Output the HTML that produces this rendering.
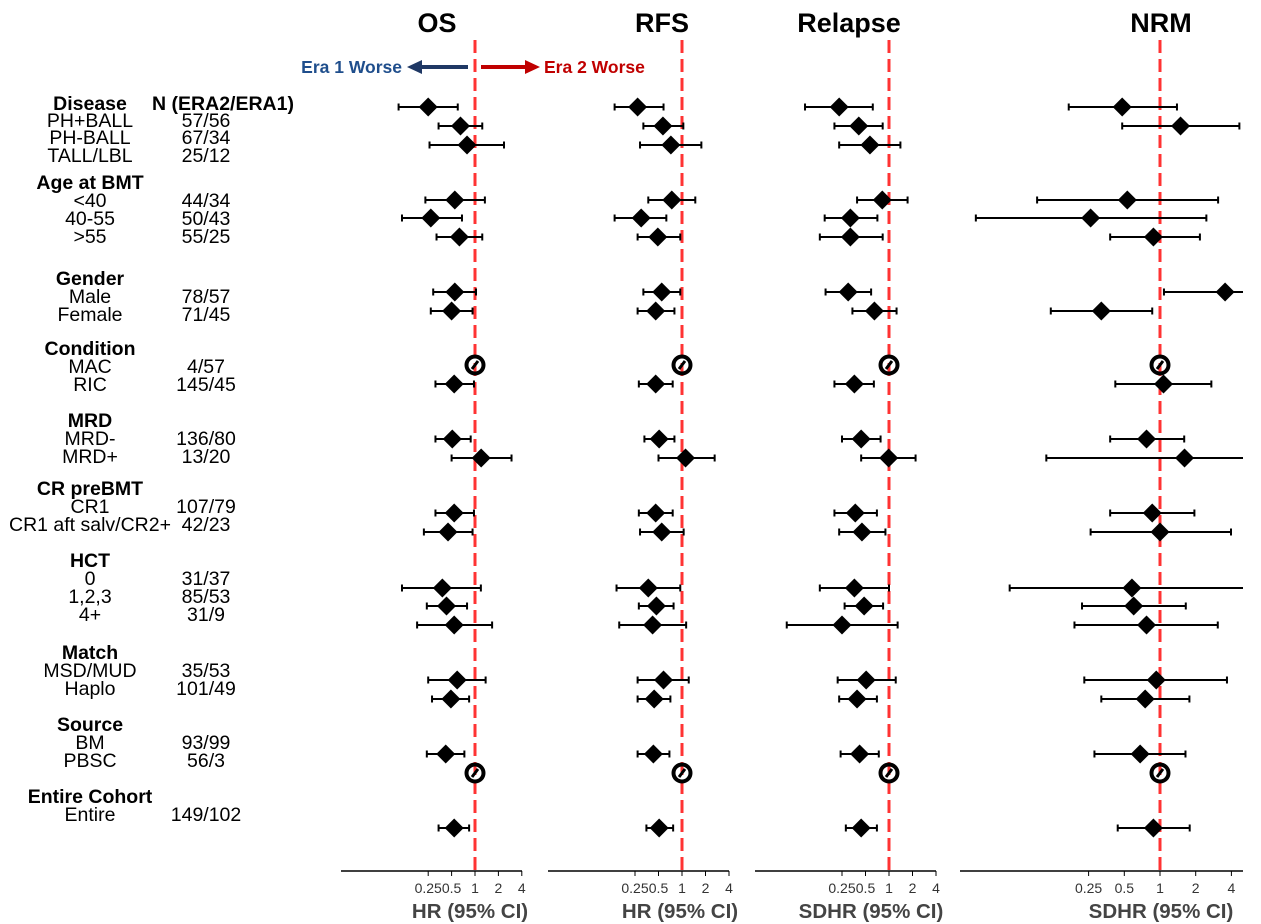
<!DOCTYPE html>
<html><head><meta charset="utf-8"><style>
html,body{margin:0;padding:0;background:#fff;}
svg{display:block;font-family:"Liberation Sans",Arial,sans-serif;}
</style></head><body>
<svg id="chart" width="1261" height="924" viewBox="0 0 1261 924" xmlns="http://www.w3.org/2000/svg">
<g id="labels"></g>
<g id="panels"></g>
<g>
  <line x1="468" y1="67" x2="420" y2="67" stroke="#1f3864" stroke-width="4"/>
  <polygon points="407,67 422,60 422,74" fill="#1f3864"/>
  <text x="402" y="73" text-anchor="end" font-size="17.5" font-weight="bold" fill="#1f4e8c">Era 1 Worse</text>
  <line x1="481" y1="67" x2="528" y2="67" stroke="#c00000" stroke-width="4"/>
  <polygon points="540,67 525,60 525,74" fill="#c00000"/>
  <text x="544" y="73" font-size="17.5" font-weight="bold" fill="#c00000">Era 2 Worse</text>
</g>
</svg>
<script>
const NS="http://www.w3.org/2000/svg";
// ---- data ----
const categories=["PH+BALL","PH-BALL","TALL/LBL","<40","40-55",">55","Male","Female","MAC","RIC","MRD-","MRD+","CR1","CR1 aft salv/CR2+","0","1,2,3","4+","MSD/MUD","Haplo","BM","PBSC","Entire"];
const referenceRows=[8,20];
const osEst=[0.25,0.65,0.79,0.55,0.27,0.63,0.55,0.50,1,0.54,0.51,1.2,0.54,0.45,0.38,0.43,0.54,0.59,0.49,0.42,1,0.54];
const osLo=[0.104,0.34,0.26,0.23,0.115,0.32,0.29,0.27,null,0.31,0.31,0.5,0.31,0.22,0.115,0.24,0.18,0.25,0.28,0.24,null,0.34];
const osHi=[0.60,1.24,2.36,1.34,0.68,1.24,1.03,0.93,null,0.97,0.88,2.95,0.97,0.93,1.19,0.79,1.66,1.37,0.84,0.73,null,0.84];
const rfsEst=[0.27,0.57,0.72,0.74,0.30,0.49,0.55,0.46,1,0.46,0.51,1.11,0.46,0.55,0.37,0.47,0.42,0.58,0.44,0.43,1,0.51];
const rfsLo=[0.137,0.32,0.29,0.37,0.137,0.27,0.32,0.27,null,0.28,0.33,0.5,0.28,0.29,0.145,0.28,0.157,0.27,0.27,0.27,null,0.35];
const rfsHi=[0.58,1.04,1.77,1.48,0.63,0.95,0.95,0.80,null,0.76,0.80,2.62,0.76,1.05,0.95,0.78,1.13,1.22,0.71,0.69,null,0.77];
const relEst=[0.23,0.41,0.57,0.82,0.32,0.32,0.30,0.65,1,0.36,0.44,0.99,0.37,0.45,0.36,0.48,0.25,0.51,0.39,0.42,1,0.44];
const relLo=[0.084,0.20,0.23,0.39,0.15,0.13,0.154,0.34,null,0.20,0.25,0.44,0.20,0.23,0.13,0.27,0.049,0.22,0.23,0.24,null,0.28];
const relHi=[0.62,0.83,1.40,1.73,0.71,0.83,0.59,1.25,null,0.64,0.78,2.19,0.70,0.90,1.0,0.84,1.29,1.22,0.70,0.74,null,0.70];
const nrmEst=[0.48,1.49,null,0.53,0.26,0.88,3.54,0.32,1,1.07,0.77,1.61,0.86,1.0,0.58,0.60,0.77,0.93,0.75,0.68,1,0.88];
const nrmLo=[0.17,0.48,null,0.092,0.028,0.38,1.08,0.12,null,0.42,0.38,0.11,0.38,0.26,0.054,0.22,0.19,0.23,0.32,0.28,null,0.44];
const nrmHi=[1.39,4.67,null,3.09,2.46,2.17,6,0.86,null,2.71,1.6,6,1.95,3.97,6,1.65,3.07,3.67,1.77,1.64,null,1.78];
const tickVals=[0.25,0.5,1,2,4];
const tickLabels=["0.25","0.5","1","2","4"];
const panelTitles=["OS","RFS","Relapse","NRM"];
const axisTitles=["HR (95% CI)","HR (95% CI)","SDHR (95% CI)","SDHR (95% CI)"];
// ---- layout ----
const rowY=[107,126,145,200,218,237,292,311,365,384,439,458,513,532,588,606,625,680,699,754,773,828];
const panels=[
 {x1:475,unit:23.4,left:341,right:522,title:437,axT:470,est:osEst,lo:osLo,hi:osHi},
 {x1:682,unit:23.5,left:548,right:729,title:662,axT:680,est:rfsEst,lo:rfsLo,hi:rfsHi},
 {x1:889,unit:23.5,left:755,right:936,title:849,axT:871,est:relEst,lo:relLo,hi:relHi},
 {x1:1160,unit:35.7,left:960,right:1243,title:1161,axT:1161,est:nrmEst,lo:nrmLo,hi:nrmHi}
];
function mk(tag,attrs,parent){const e=document.createElementNS(NS,tag);for(const k in attrs)e.setAttribute(k,attrs[k]);parent.appendChild(e);return e;}
const pg=document.getElementById('panels');
panels.forEach((p,pi)=>{
 const sx=v=>p.x1+p.unit*Math.log2(v);
 const g=mk('g',{},pg);
 
 
 const t=mk('text',{x:p.title,y:32,'text-anchor':'middle','font-size':27,'font-weight':'bold',fill:'#000'},g);
 t.textContent=panelTitles[pi];
 
 
 const rl=mk('line',{x1:sx(1),x2:sx(1),y1:40,y2:871,stroke:'#ff3333','stroke-width':3,'stroke-dasharray':'13,6'},g);
 
 
 const ax=mk('line',{x1:p.left,x2:p.right,y1:871,y2:871,stroke:'#000','stroke-width':1.6},g);
 
 
 tickVals.forEach((v,i)=>{
  const tk=mk('line',{x1:sx(v),x2:sx(v),y1:871,y2:876,stroke:'#000','stroke-width':1},g);
  
  
  const tl=mk('text',{x:sx(v),y:893,'text-anchor':'middle','font-size':14,fill:'#333'},g);
  tl.textContent=tickLabels[i];
  
  
 });
 const at=mk('text',{x:p.axT,y:918,'text-anchor':'middle','font-size':20.5,'font-weight':'bold',fill:'#444'},g);
 at.textContent=axisTitles[pi];
 
 
 const cx=v=>Math.max(p.left,Math.min(p.right,sx(v)));
 categories.forEach((c,i)=>{
  const y=rowY[i];
  if(referenceRows.includes(i)){
   const rg=mk('g',{},g);
   
   
   mk('circle',{cx:sx(p.est[i]),cy:y,r:8.5,fill:'none',stroke:'#000','stroke-width':4},rg);
   mk('line',{x1:sx(p.est[i])-3,y1:y+4,x2:sx(p.est[i])+3,y2:y-4,stroke:'#000','stroke-width':3},rg);
   return;
  }
  if(p.est[i]==null)return;
  const mg=mk('g',{},g);
  
  
  const xl=cx(p.lo[i]),xh=cx(p.hi[i]);
  mk('line',{x1:xl,x2:xh,y1:y,y2:y,stroke:'#000','stroke-width':2},mg);
  if(sx(p.lo[i])>=p.left)mk('line',{x1:xl,x2:xl,y1:y-3.5,y2:y+3.5,stroke:'#000','stroke-width':2},mg);
  if(sx(p.hi[i])<=p.right)mk('line',{x1:xh,x2:xh,y1:y-3.5,y2:y+3.5,stroke:'#000','stroke-width':2},mg);
  const e=sx(p.est[i]),d=9.5;
  mk('polygon',{points:`${e-d},${y} ${e},${y-d} ${e+d},${y} ${e},${y+d}`,fill:'#000'},mg);
 });
});
// left labels
const lg=document.getElementById('labels');
const leftRows=[
 ["Disease",103,1,"N (ERA2/ERA1)"],["PH+BALL",120,0,"57/56"],["PH-BALL",137,0,"67/34"],["TALL/LBL",155,0,"25/12"],
 ["Age at BMT",182,1,""],["<40",200,0,"44/34"],["40-55",218,0,"50/43"],[">55",236,0,"55/25"],
 ["Gender",278,1,""],["Male",296,0,"78/57"],["Female",314,0,"71/45"],
 ["Condition",348,1,""],["MAC",366,0,"4/57"],["RIC",384,0,"145/45"],
 ["MRD",420,1,""],["MRD-",438,0,"136/80"],["MRD+",456,0,"13/20"],
 ["CR preBMT",488,1,""],["CR1",506,0,"107/79"],["CR1 aft salv/CR2+",524,0,"42/23"],
 ["HCT",560,1,""],["0",578,0,"31/37"],["1,2,3",596,0,"85/53"],["4+",614,0,"31/9"],
 ["Match",652,1,""],["MSD/MUD",670,0,"35/53"],["Haplo",688,0,"101/49"],
 ["Source",724,1,""],["BM",742,0,"93/99"],["PBSC",760,0,"56/3"],
 ["Entire Cohort",796,1,""],["Entire",814,0,"149/102"]
];
leftRows.forEach(r=>{
 const t=mk('text',{x:90,y:r[1]+7,'text-anchor':'middle','font-size':19.5,'font-weight':r[2]?'bold':'normal',fill:'#000'},lg);
 t.textContent=r[0];
 
 
 if(r[3]){
  const n=mk('text',{x:r[2]?223:206,y:r[1]+7,'text-anchor':'middle','font-size':19.5,'font-weight':r[2]?'bold':'normal',fill:'#000'},lg);
  n.textContent=r[3];
  
  
 }
});
</script>
</body></html>
